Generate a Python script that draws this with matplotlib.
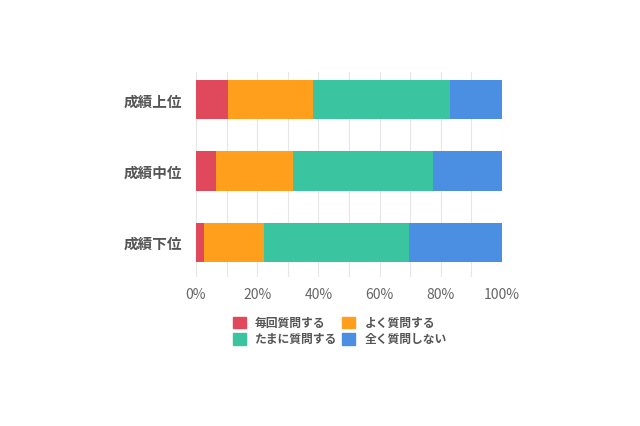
import matplotlib.pyplot as plt
import numpy as np
from matplotlib.patches import Patch

plt.rcParams['font.family'] = ['Noto Sans CJK JP', 'DejaVu Sans']

groups = ["成績上位", "成績中位", "成績下位"]
series = ["毎回質問する", "よく質問する", "たまに質問する", "全く質問しない"]
every = [10.5, 6.4, 2.7]
often = [27.6, 25.4, 19.6]
sometimes = [44.8, 45.7, 47.2]
never = [17.1, 22.5, 30.5]
colors = ["#E0495C", "#FF9F1C", "#3AC4A0", "#4A8FE2"]
xticks = [0, 20, 40, 60, 80, 100]

fig = plt.figure(figsize=(6.4, 4.26), dpi=100)
ax = fig.add_axes([196 / 640, 1 - 277 / 426, 306 / 640, 205 / 426])

ypos = np.arange(len(groups))
left = np.zeros(len(groups))
for vals, c, name in zip([every, often, sometimes, never], colors, series):
    ax.barh(ypos, vals, left=left, height=0.55, color=c, label=name, zorder=2)
    left += np.array(vals)

ax.set_xlim(0, 100)
ax.set_ylim(2.49, -0.39)
ax.set_xticks(xticks)
ax.set_xticks(np.arange(10, 100, 20), minor=True)
ax.xaxis.grid(True, which="both", color="#e6e6e6", linewidth=0.8, zorder=0)
ax.set_xticklabels([f"{v}%" for v in xticks], color="#666666", fontsize=10)
ax.set_yticks(ypos)
ax.set_yticklabels(groups, fontsize=10.5, fontweight="bold", color="#555555")
ax.tick_params(which="both", length=0)
ax.tick_params(axis="y", pad=10)
ax.tick_params(axis="x", pad=8)
for s in ax.spines.values():
    s.set_visible(False)

# legend fills column-wise, so order handles to get rows like the original
handles = [Patch(color=c, label=n) for c, n in zip(colors, series)]
order = [0, 2, 1, 3]
fig.legend(handles=[handles[i] for i in order], loc="upper left",
           bbox_to_anchor=(222 / 640, 1 - 306 / 426),
           ncol=2, frameon=False, handlelength=1.1, handleheight=1.1,
           handletextpad=0.8, columnspacing=0.4, labelspacing=0.3,
           labelcolor="#555555", prop={"weight": "bold", "size": 8.5})

fig.savefig("out.png", dpi=100)
